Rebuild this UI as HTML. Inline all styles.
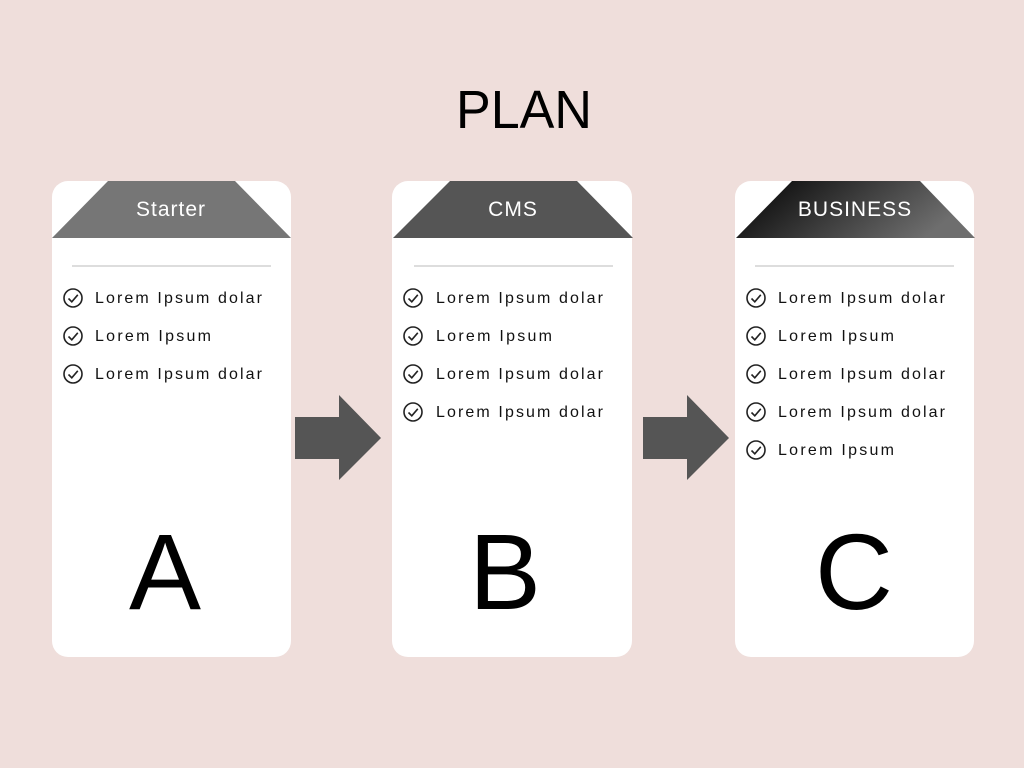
<!DOCTYPE html>
<html><head><meta charset="utf-8"><style>
html,body{margin:0;padding:0;background:#efdedb;}
svg{display:block}
text{font-family:"Liberation Sans",sans-serif;}
</style></head><body>
<svg width="1024" height="768" viewBox="0 0 1024 768" xmlns="http://www.w3.org/2000/svg">
<defs>
<linearGradient id="g" x1="0" y1="0" x2="1" y2="0.3">
<stop offset="0" stop-color="#000"/><stop offset="0.55" stop-color="#3d3d3d"/><stop offset="1" stop-color="#6e6e6e"/>
</linearGradient>
<g id="chk"><circle cx="0" cy="0" r="9" fill="none" stroke="#222" stroke-width="1.6"/><path d="M-4.5 0.5 L-1.2 3.8 L4.8 -3.2" fill="none" stroke="#222" stroke-width="1.6"/></g>
</defs>
<rect width="1024" height="768" fill="#efdedb"/>
<text x="524" y="128" font-size="54" text-anchor="middle" fill="#000" textLength="136" lengthAdjust="spacingAndGlyphs">PLAN</text>

<rect x="52" y="181" width="239" height="476" rx="16" fill="#fff"/>
<rect x="392" y="181" width="240" height="476" rx="16" fill="#fff"/>
<rect x="735" y="181" width="239" height="476" rx="16" fill="#fff"/>

<polygon points="108,181 235,181 291,238 52,238" fill="#767676"/>
<polygon points="450,181 577,181 633,238 393,238" fill="#555"/>
<polygon points="792,181 920,181 975,238 736,238" fill="url(#g)"/>
<text x="171" y="216" font-size="21" fill="#fff" text-anchor="middle" letter-spacing="1">Starter</text>
<text x="513" y="216" font-size="21" fill="#fff" text-anchor="middle" letter-spacing="1">CMS</text>
<text x="855" y="216" font-size="21" fill="#fff" text-anchor="middle" letter-spacing="1">BUSINESS</text>

<rect x="72" y="265" width="199" height="2" fill="#ddd"/>
<rect x="414" y="265" width="199" height="2" fill="#ddd"/>
<rect x="755" y="265" width="199" height="2" fill="#ddd"/>

<g font-size="16" fill="#111">
<use href="#chk" x="73" y="298"/><text x="95" y="303" textLength="167">Lorem Ipsum dolar</text>
<use href="#chk" x="73" y="336"/><text x="95" y="341" textLength="116">Lorem Ipsum</text>
<use href="#chk" x="73" y="374"/><text x="95" y="379" textLength="167">Lorem Ipsum dolar</text>

<use href="#chk" x="413" y="298"/><text x="436" y="303" textLength="167">Lorem Ipsum dolar</text>
<use href="#chk" x="413" y="336"/><text x="436" y="341" textLength="116">Lorem Ipsum</text>
<use href="#chk" x="413" y="374"/><text x="436" y="379" textLength="167">Lorem Ipsum dolar</text>
<use href="#chk" x="413" y="412"/><text x="436" y="417" textLength="167">Lorem Ipsum dolar</text>

<use href="#chk" x="756" y="298"/><text x="778" y="303" textLength="167">Lorem Ipsum dolar</text>
<use href="#chk" x="756" y="336"/><text x="778" y="341" textLength="116">Lorem Ipsum</text>
<use href="#chk" x="756" y="374"/><text x="778" y="379" textLength="167">Lorem Ipsum dolar</text>
<use href="#chk" x="756" y="412"/><text x="778" y="417" textLength="167">Lorem Ipsum dolar</text>
<use href="#chk" x="756" y="450"/><text x="778" y="455" textLength="116">Lorem Ipsum</text>
</g>

<g font-size="108" fill="#000" text-anchor="middle">
<text x="165" y="609">A</text>
<text x="505" y="609">B</text>
<text x="854" y="609">C</text>
</g>

<polygon points="295,417 339,417 339,395 381,438 339,480 339,459 295,459" fill="#555"/>
<polygon points="643,417 687,417 687,395 729,438 687,480 687,459 643,459" fill="#555"/>
</svg>
</body></html>
